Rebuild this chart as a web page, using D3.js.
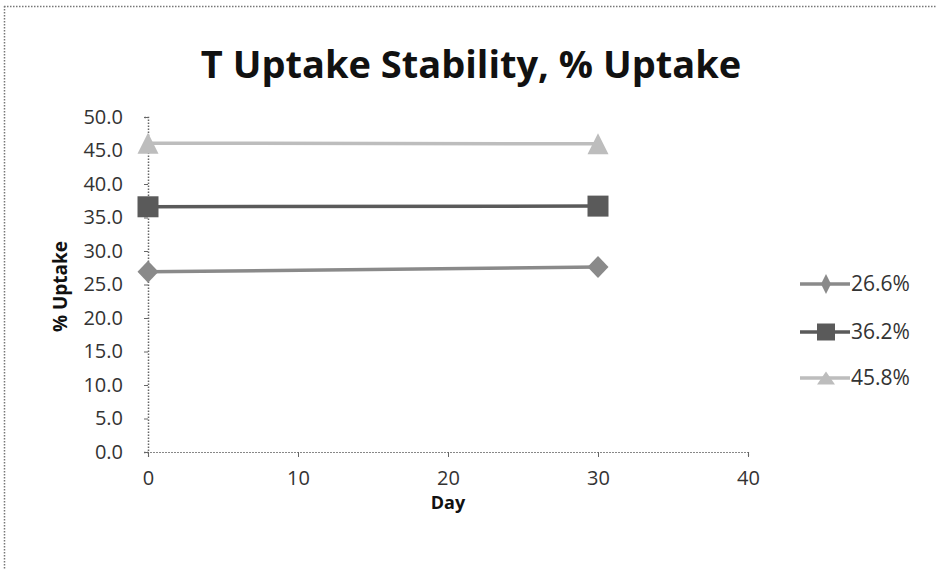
<!DOCTYPE html>
<html>
<head>
<meta charset="utf-8">
<script src="https://cdn.jsdelivr.net/npm/d3@7"></script>
<style>
  html, body { margin: 0; padding: 0; background: #fff; }
  svg { display: block; }
  text { font-family: "Open Sans", "Noto Sans", sans-serif; fill: #222; }
</style>
</head>
<body>
<svg id="chart" width="936" height="569"></svg>
<script>
// Uptake (%) measured on day 0 and day 30 for three starting levels
const days = [0, 30];
const seriesNames = ["26.6%", "36.2%", "45.8%"];
const uptake266 = [26.9, 27.6];
const uptake362 = [36.6, 36.7];
const uptake458 = [46.1, 46.0];
const yTicks = [0, 5, 10, 15, 20, 25, 30, 35, 40, 45, 50];
const xTicks = [0, 10, 20, 30, 40];

// marker shapes: w/h are the full width and height in px
function marker(kind, w, h) {
  const a = w / 2, b = h / 2;
  if (kind === "diamond") return `M0,${-b}L${a},0L0,${b}L${-a},0Z`;
  if (kind === "square") return `M${-a},${-b}H${a}V${b}H${-a}Z`;
  return `M0,${-b}L${a},${b}L${-a},${b}Z`;
}

const series = [
  { name: seriesNames[0], values: uptake266, color: "#8a8a8a", kind: "diamond", plot: [21, 22], key: [10, 20] },
  { name: seriesNames[1], values: uptake362, color: "#5a5a5a", kind: "square", plot: [21, 21], key: [18, 17] },
  { name: seriesNames[2], values: uptake458, color: "#bdbdbd", kind: "triangle", plot: [21, 21], key: [18, 13] }
];

const svg = d3.select("#chart");

// dotted frame edges
svg.append("line").attr("x1", 4).attr("x2", 936).attr("y1", 6.5).attr("y2", 6.5)
  .attr("stroke", "#777").attr("stroke-width", 1.5).attr("stroke-dasharray", "1.5,1.5");
svg.append("line").attr("x1", 4.5).attr("x2", 4.5).attr("y1", 6).attr("y2", 569)
  .attr("stroke", "#777").attr("stroke-width", 1.5).attr("stroke-dasharray", "1.5,1.5");

const x = d3.scaleLinear().domain([0, 40]).range([148, 748]);
const y = d3.scaleLinear().domain([0, 50]).range([452, 117]);

// title
svg.append("text").attr("x", 471).attr("y", 78).attr("text-anchor", "middle")
  .style("font-size", "38px").style("font-weight", "bold").style("fill", "#111")
  .text("T Uptake Stability, % Uptake");

// y axis
const yAxis = svg.append("g").attr("transform", `translate(${x(0)},0)`)
  .call(d3.axisLeft(y).tickValues(yTicks).tickFormat(d3.format(".1f")).tickSize(4).tickPadding(21));
yAxis.select(".domain").attr("stroke", "#666").attr("stroke-dasharray", "1.5,1.5").attr("stroke-width", 1.5);
yAxis.selectAll(".tick line").attr("stroke", "#666");
yAxis.selectAll(".tick text").style("font-size", "20px").style("fill", "#333");

// x axis
const xAxis = svg.append("g").attr("transform", `translate(0,${y(0)})`)
  .call(d3.axisBottom(x).tickValues(xTicks).tickFormat(d3.format("d")).tickSize(5).tickPadding(14));
xAxis.select(".domain").attr("stroke", "#888").attr("stroke-dasharray", "2,1").attr("stroke-width", 1.2);
xAxis.selectAll(".tick line").attr("stroke", "#666");
xAxis.selectAll(".tick text").style("font-size", "20px").style("fill", "#333");

// axis titles
svg.append("text").attr("transform", `translate(67,${(y(0) + y(50)) / 2 + 2}) rotate(-90)`)
  .attr("text-anchor", "middle").style("font-size", "19px").style("font-weight", "bold").style("fill", "#111")
  .text("% Uptake");
svg.append("text").attr("x", 448).attr("y", 509).attr("text-anchor", "middle")
  .style("font-size", "18px").style("font-weight", "bold").style("fill", "#111")
  .text("Day");

// series lines and markers
const line = d3.line().x((d, i) => x(days[i])).y(d => y(d));
series.forEach(s => {
  svg.append("path").datum(s.values).attr("d", line)
    .attr("fill", "none").attr("stroke", s.color).attr("stroke-width", 3.5);
  svg.selectAll(null).data(s.values).enter().append("path")
    .attr("transform", (d, i) => `translate(${x(days[i])},${y(d)})`)
    .attr("d", marker(s.kind, s.plot[0], s.plot[1]))
    .attr("fill", s.color);
});

// legend
const legend = svg.append("g");
series.forEach((s, i) => {
  const ly = [284, 332, 378][i];
  legend.append("line").attr("x1", 800).attr("x2", 850).attr("y1", ly).attr("y2", ly)
    .attr("stroke", s.color).attr("stroke-width", 3.5);
  legend.append("path").attr("transform", `translate(826,${ly})`)
    .attr("d", marker(s.kind, s.key[0], s.key[1])).attr("fill", s.color);
  legend.append("text").attr("x", 851).attr("y", ly + 7)
    .style("font-size", "21px").style("fill", "#333").text(s.name);
});
</script>
</body>
</html>
